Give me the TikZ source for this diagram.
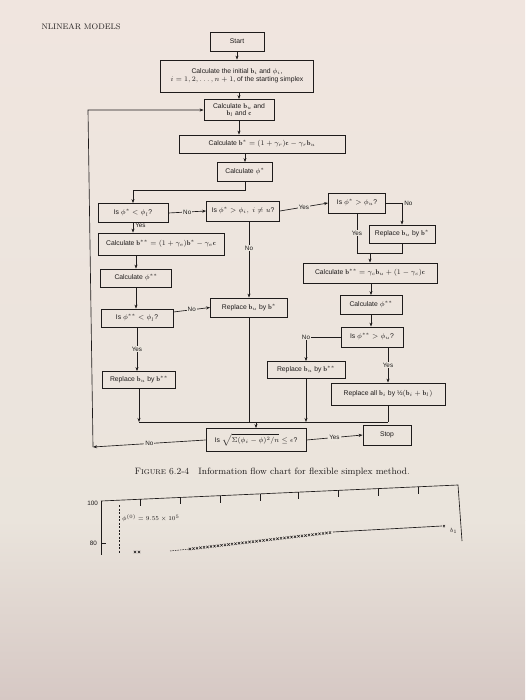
\documentclass[tikz,border=0pt]{standalone}
\usepackage{fontspec}
\setsansfont{Liberation Sans}
\usetikzlibrary{arrows.meta,calc}
\definecolor{paper}{RGB}{236,230,222}
\definecolor{papertop}{RGB}{240,229,223}
\definecolor{papermid}{RGB}{234,228,220}
\definecolor{paperbot}{RGB}{214,200,196}
\definecolor{ink}{RGB}{30,27,27}
\tikzset{
  box/.style={draw=ink, line width=0.8pt, font=\sffamily\fontsize{6.8}{7.8}\selectfont, text=ink, inner sep=1pt, align=center},
  arr/.style={draw=ink, line width=0.65pt, -{Stealth[length=4pt,width=3pt]}},
  ln/.style={draw=ink, line width=0.65pt},
  lbl/.style={fill=paper, font=\sffamily\fontsize{6.3}{7}\selectfont, text=ink, inner sep=1pt},
  axl/.style={font=\sffamily\fontsize{6.3}{7}\selectfont, text=ink, inner sep=1pt}
}
\begin{document}
\begin{tikzpicture}[x=1pt,y=-1pt]
\useasboundingbox (0,0) rectangle (525,700);
\shade[top color=papertop, bottom color=papermid] (0,0) rectangle (525,520);
\shade[top color=papermid, bottom color=paperbot] (0,520) rectangle (525,700);

\node[anchor=west, font=\fontsize{8}{9}\selectfont, text=ink] (hdr) at (38,27) {NLINEAR MODELS};

% nodes
\node[box, minimum width=54pt, minimum height=19pt] (start) at (237,41.5) {Start};
\node[box, minimum width=153pt, minimum height=32pt] (init) at (237,76) {Calculate the initial $\mathbf{b}_i$ and $\phi_i$,\\ $i = 1, 2, \ldots, n+1$, of the starting simplex};
\node[box, minimum width=70pt, minimum height=21pt] (bu) at (239,110) {Calculate $\mathbf{b}_u$ and\\ $\mathbf{b}_l$ and $\mathbf{c}$};
\node[box, minimum width=166pt, minimum height=18pt] (bstar) at (262,144) {Calculate $\mathbf{b}^* = (1+\gamma_r)\mathbf{c} - \gamma_r\mathbf{b}_u$};
\node[box, minimum width=55pt, minimum height=19pt] (phis) at (245,172) {Calculate $\phi^*$};
\node[box, minimum width=70pt, minimum height=19pt] (q1) at (133,213) {Is $\phi^* < \phi_l$?};
\node[box, minimum width=73pt, minimum height=20pt] (q2) at (243,211) {Is $\phi^* > \phi_i,\ i \ne u$?};
\node[box, minimum width=57pt, minimum height=20pt] (q3) at (357,203) {Is $\phi^* > \phi_u$?};
\node[box, minimum width=66pt, minimum height=18pt] (repl1) at (402,234) {Replace $\mathbf{b}_u$ by $\mathbf{b}^*$};
\node[box, minimum width=134pt, minimum height=20pt] (bss2) at (370,273) {Calculate $\mathbf{b}^{**} = \gamma_c\mathbf{b}_u + (1-\gamma_c)\mathbf{c}$};
\node[box, minimum width=62pt, minimum height=19pt] (phiss2) at (371,305) {Calculate $\phi^{**}$};
\node[box, minimum width=62pt, minimum height=20pt] (q5) at (372,337) {Is $\phi^{**} > \phi_u$?};
\node[box, minimum width=78pt, minimum height=17pt] (repl3) at (306,370) {Replace $\mathbf{b}_u$ by $\mathbf{b}^{**}$};
\node[box, minimum width=114pt, minimum height=22pt] (replall) at (388,394) {Replace all $\mathbf{b}_i$ by ½$(\mathbf{b}_i + \mathbf{b}_l)$};
\node[box, minimum width=126pt, minimum height=22pt] (bss1) at (161,244) {Calculate $\mathbf{b}^{**} = (1+\gamma_e)\mathbf{b}^* - \gamma_e\mathbf{c}$};
\node[box, minimum width=71pt, minimum height=18pt] (phiss1) at (136,278) {Calculate $\phi^{**}$};
\node[box, minimum width=72pt, minimum height=18pt] (q4) at (137,318) {Is $\phi^{**} < \phi_l$?};
\node[box, minimum width=77pt, minimum height=19pt] (repl2) at (249,307.5) {Replace $\mathbf{b}_u$ by $\mathbf{b}^*$};
\node[box, minimum width=73pt, minimum height=17pt] (repl4) at (139,380) {Replace $\mathbf{b}_u$ by $\mathbf{b}^{**}$};
\node[box, minimum width=100pt, minimum height=23pt] (conv) at (256,440) {Is $\sqrt{\Sigma(\phi_i-\phi)^2/n} \le \epsilon$?};
\node[box, minimum width=48pt, minimum height=20pt] (stop) at (387,435) {Stop};

% helper coordinates
\coordinate (turn) at (245,190);
\coordinate (J) at (370,253);
\coordinate (cl) at (139,422);
\coordinate (lb) at (93,447);
\coordinate (lt) at (88,110);

% connectors
\draw[arr] (start) -- (init);
\draw[arr] (bu.north |- init.south) -- (bu.north);
\draw[arr] (bu.south) -- (bu.south |- bstar.north);
\draw[arr] (phis.north |- bstar.south) -- (phis.north);
\draw[arr] (phis.south) -- (turn) -| (q1.north);
\draw[arr] (q1.east) -- node[lbl]{No} (q2.west);
\draw[arr] (q2.east) -- node[lbl]{Yes} (q3.west);
\draw[arr] (q3.east) -- (repl1.north |- q3.east) node[lbl, anchor=west, xshift=1pt]{No} -- (repl1.north);
\draw[ln] (q3.south) -- node[lbl]{Yes} (q3.south |- J) -- (J);
\draw[ln] (repl1.south) -- (repl1.south |- J) -- (J);
\draw[arr] (J) -- (bss2.north);
\draw[arr] (bss2.south -| phiss2.north) -- (phiss2.north);
\draw[arr] (phiss2.south) -- (phiss2.south |- q5.north);
\draw[arr] (q5.west) -- (repl3.north |- q5.west) node[lbl]{No} -- (repl3.north);
\draw[arr] (replall.north |- q5.south) -- node[lbl]{Yes} (replall.north);

\draw[arr] (q1.south) -- node[lbl, pos=0.3, anchor=west, xshift=1pt, fill=none]{Yes} (q1.south |- bss1.north);
\draw[arr] (phiss1.north |- bss1.south) -- (phiss1.north);
\draw[arr] (phiss1.south) -- (phiss1.south |- q4.north);
\draw[arr] ($(q4.east)+(0,-6)$) -- node[lbl]{No} (repl2.west);
\draw[arr] (q4.south) -- node[lbl]{Yes} (q4.south |- repl4.north);
\draw[arr] (repl2.north |- q2.south) -- node[lbl, pos=0.35]{No} (repl2.north);

\draw[arr] (repl4.south) -- (repl4.south |- cl);
\draw[ln] (repl2.south) -- (repl2.south |- cl);
\draw[arr] (repl3.south) -- (repl3.south |- cl);
\draw[ln] (replall.south) -- (replall.south |- cl);
\draw[ln] (cl) -- (replall.south |- cl);
\draw[arr] (conv.north |- cl) -- (conv.north);
\draw[arr] (conv.east) -- node[lbl]{Yes} (stop.west);
\draw[arr] (conv.west) -- node[lbl]{No} (lb);
\draw[arr] (lb) -- (lt) -- (bu.west);

% caption
\node[anchor=west, font=\fontsize{9.2}{11}\selectfont, text=ink] (cap) at (131,472) {\textsc{Figure} 6.2-4\quad Information flow chart for flexible simplex method.};

% graph fragment
\draw[ln] (101,501) -- (458,485) -- (462,541);
\draw[ln] (101,501) -- (101,555);
\foreach \x in {140,180,220,260,298,338,378,418}
  \draw[ln] (\x,{501-0.0448*(\x-101)}) -- ++(0,7);
\node[axl, anchor=east] (l100) at (99,503) {100};
\node[axl, anchor=east] (l80) at (98,543) {80};
\draw[ln] (101,543) -- (106,543);
\draw[ln, dash pattern=on 2pt off 1.5pt] (119,505) -- (119,553);
\node[axl, anchor=west] (phi0) at (121,518) {$\phi^{(0)} = 9.55\times10^5$};
\draw[ink, line width=0.5pt, dash pattern=on 1.5pt off 1pt] (170,551) -- (190,549);
\foreach \i in {0,...,40} {
  \pgfmathsetmacro{\px}{190+\i*3.5}
  \pgfmathsetmacro{\py}{549-\i*0.41}
  \draw[ink, line width=0.5pt] (\px-1.1,\py-1.2) -- (\px+1.1,\py+1.2) (\px-1.1,\py+1.2) -- (\px+1.1,\py-1.2);
}
\foreach \px in {135,139}
  \draw[ink, line width=0.5pt] (\px-1.1,550.8) -- (\px+1.1,553.2) (\px-1.1,553.2) -- (\px+1.1,550.8);
\draw[ln] (333,532) -- (442,526);
\draw[ink, line width=0.5pt] (443,525) -- (445,527.2) (443,527.2) -- (445,525);
\node[axl, anchor=west] (b1) at (449,531) {$b_1$};
\end{tikzpicture}
\end{document}
